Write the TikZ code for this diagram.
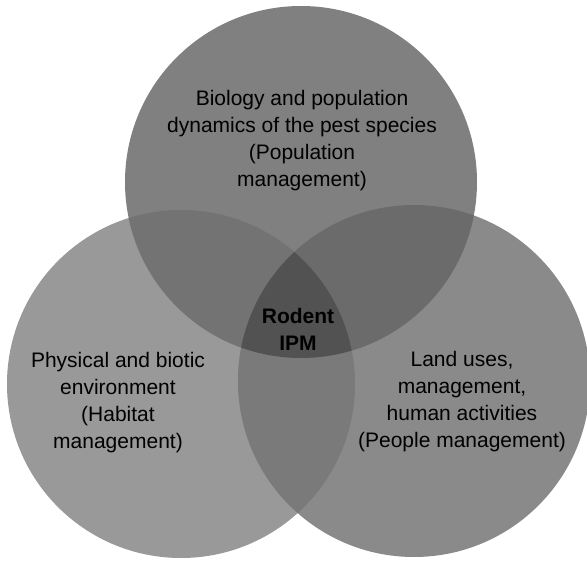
\documentclass[tikz,border=0pt]{standalone}
\usepackage{fontspec}
\setmainfont{Liberation Sans}
\begin{document}
\begin{tikzpicture}[x=1pt,y=-1pt,
  lbl/.style={align=center,font=\fontsize{21}{27}\selectfont,inner sep=0pt},
  core/.style={align=center,font=\fontsize{21}{27}\selectfont\bfseries,inner sep=0pt}]
\def\cTop{(301,182) circle[radius=176]}
\def\cLeft{(181,384) circle[radius=174]}
\def\cRight{(414,381) circle[radius=176]}
\useasboundingbox (0,0) rectangle (587,561);
\fill[white] (0,0) rectangle (587,561);
% single circles
\fill[black!40] \cLeft;
\fill[black!46] \cRight;
\fill[black!50] \cTop;
% pairwise overlaps
\begin{scope}\clip \cTop; \fill[black!55] \cLeft; \end{scope}
\begin{scope}\clip \cTop; \fill[black!58] \cRight; \end{scope}
\begin{scope}\clip \cLeft; \fill[black!52] \cRight; \end{scope}
% triple overlap
\begin{scope}\clip \cTop; \clip \cLeft; \fill[black!68] \cRight; \end{scope}
% labels
\node[lbl] (pop) at (302,141) {Biology and population\\dynamics of the pest species\\(Population\\management)};
\node[lbl] (hab) at (118,403) {Physical and biotic\\environment\\(Habitat\\management)};
\node[lbl] (ppl) at (462,402) {Land uses,\\management,\\human activities\\(People management)};
\node[core] (ipm) at (298,329) {Rodent\\IPM};
\end{tikzpicture}
\end{document}
